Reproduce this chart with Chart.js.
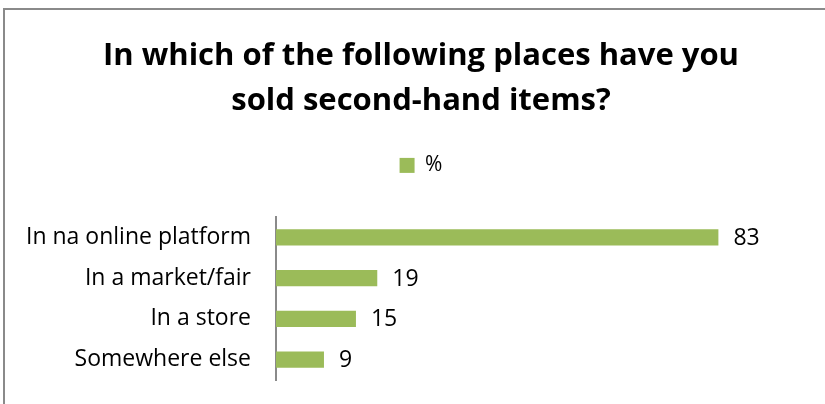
<!DOCTYPE html>
<html>
<head>
<meta charset="utf-8">
<script src="https://cdn.jsdelivr.net/npm/chart.js@4"></script>
<style>
  html, body { margin: 0; padding: 0; background: #fff; }
  #wrap { width: 825px; height: 404px; }
</style>
</head>
<body>
<div id="wrap"><canvas id="myChart" width="825" height="404"></canvas></div>
<script>
const categories = ["In na online platform", "In a market/fair", "In a store", "Somewhere else"];
const percentValues = [83, 19, 15, 9];
const seriesLabel = "%";
const chartTitle = ["In which of the following places have you", "sold second-hand items?"];

const FONT = "'Open Sans', 'Noto Sans', sans-serif";

// outer frame, only the left and top edges fall inside the canvas
const framePlugin = {
  id: "frame",
  beforeDraw(chart) {
    const c = chart.ctx;
    c.save();
    c.strokeStyle = "#8a8a8a";
    c.lineWidth = 2;
    c.beginPath();
    c.moveTo(4, chart.height);
    c.lineTo(4, 9);
    c.lineTo(chart.width, 9);
    c.stroke();
    c.restore();
  }
};

// value next to the end of every bar
const valueLabels = {
  id: "valueLabels",
  afterDatasetsDraw(chart) {
    const c = chart.ctx;
    c.save();
    c.font = "23px " + FONT;
    c.fillStyle = "#000";
    c.textBaseline = "middle";
    chart.getDatasetMeta(0).data.forEach((bar, i) => {
      c.fillText(String(percentValues[i]), bar.x + 15, bar.y + 1);
    });
    c.restore();
  }
};

// extra room under the legend
const legendGap = {
  id: "legendGap",
  beforeInit(chart) {
    const fit = chart.legend.fit;
    chart.legend.fit = function () {
      fit.bind(chart.legend)();
      this.height += 31;
    };
  }
};

const ctxBar = document.getElementById("myChart").getContext("2d");

new Chart(ctxBar, {
  type: "bar",
  data: {
    labels: categories,
    datasets: [
      {
        label: seriesLabel,
        data: percentValues,
        backgroundColor: "#9bbb59",
        borderWidth: 0,
        barPercentage: 0.4,
        categoryPercentage: 1
      }
    ]
  },
  plugins: [framePlugin, valueLabels, legendGap],
  options: {
    indexAxis: "y",
    responsive: false,
    animation: false,
    layout: {
      padding: { left: 17, right: 0, top: 0, bottom: 24 }
    },
    plugins: {
      title: {
        display: true,
        text: chartTitle,
        color: "#000",
        font: { family: FONT, size: 31, weight: "bold", lineHeight: 1.45 },
        padding: { top: 34, bottom: 21 }
      },
      legend: {
        position: "top",
        labels: {
          color: "#000",
          boxWidth: 15,
          boxHeight: 15,
          font: { family: FONT, size: 21 }
        }
      },
      tooltip: { enabled: false }
    },
    scales: {
      x: {
        display: false,
        min: 0,
        max: 103
      },
      y: {
        // fixed label column so the axis line sits at x = 276
        afterFit(scale) {
          scale.width = 259;
          scale.paddingTop = 0;
          scale.paddingBottom = 0;
        },
        grid: { display: false, drawTicks: false },
        border: { display: true, color: "#8a8a8a", width: 2 },
        ticks: {
          color: "#000",
          padding: 25,
          font: { family: FONT, size: 23 }
        }
      }
    }
  }
});
</script>
</body>
</html>
